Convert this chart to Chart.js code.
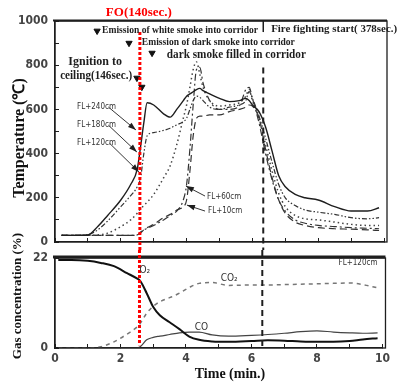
<!DOCTYPE html>
<html>
<head>
<meta charset="utf-8">
<script src="https://cdn.jsdelivr.net/npm/chart.js@4.4.1/dist/chart.umd.min.js"></script>
<style>
    html, body { margin: 0; padding: 0; background: #fff; }
    #wrap { position: relative; width: 398px; height: 383px; }
    #wrap canvas { position: absolute; left: 0; top: 0; }
</style>
</head>
<body>
<div id="wrap">
    <canvas id="gasChart" width="398" height="383"></canvas>
    <canvas id="tempChart" width="398" height="383"></canvas>
</div>
<script>
// =========================
// DATA
// =========================

// time (min.) for the temperature curves
const tempTime = [0.2, 0.5, 1.0, 1.3, 1.6, 2.0, 2.3, 2.5, 2.6, 2.7, 2.8, 3.0, 3.3, 3.5, 3.7, 3.9, 4.0, 4.1, 4.2, 4.3,
    4.4, 4.5, 4.7, 5.0, 5.3, 5.6, 5.8, 5.9, 6.0, 6.2, 6.4, 6.6, 6.8, 7.0, 7.3, 7.6, 8.0, 8.5, 9.0, 9.5, 9.85];

const fl240 = [30, 30, 32, 70, 120, 190, 260, 330, 430, 540, 630, 620, 580, 565, 600, 640, 660, 670, 680, 690,
    695, 685, 670, 650, 635, 640, 650, 640, 620, 590, 520, 410, 300, 250, 215, 200, 190, 160, 140, 140, 155];
const fl180 = [30, 30, 33, 55, 95, 160, 210, 250, 290, 400, 480, 495, 505, 515, 530, 545, 560, 600, 640, 660,
    655, 640, 610, 600, 610, 620, 640, 680, 650, 570, 470, 360, 260, 200, 165, 145, 135, 125, 110, 105, 110];
const fl120 = [30, 30, 30, 32, 40, 70, 100, 130, 150, 165, 180, 215, 290, 345, 440, 560, 620, 700, 780, 815,
    760, 700, 640, 615, 620, 630, 660, 690, 640, 560, 440, 320, 220, 160, 120, 105, 100, 90, 80, 75, 75];
const fl60 = [30, 30, 30, 30, 30, 30, 30, 32, 45, 55, 62, 75, 100, 120, 140, 190, 260, 420, 620, 780,
    790, 720, 640, 600, 600, 615, 690, 700, 650, 540, 400, 280, 190, 140, 100, 85, 75, 70, 65, 62, 60];
const fl10 = [30, 30, 30, 30, 30, 30, 30, 32, 40, 55, 65, 80, 110, 125, 145, 160, 190, 320, 480, 560,
    570, 570, 575, 575, 590, 600, 610, 620, 615, 560, 420, 290, 190, 130, 90, 75, 65, 60, 58, 55, 52];

// event markers (triangles) on the temperature panel
const eventTime = [1.28, 2.25, 2.95, 2.49, 2.64];
const eventTemp = [955, 900, 855, 742, 701];

// time (min.) for the gas curves
const gasTime = [0.1, 0.5, 1.0, 1.4, 1.8, 2.2, 2.5, 2.6, 2.8, 3.0, 3.2, 3.5, 3.8, 4.1, 4.4, 4.8, 5.3,
    6.0, 6.5, 7.0, 7.5, 8.0, 8.5, 9.0, 9.4, 9.85];

const o2 = [21.5, 21.5, 21.3, 20.8, 20.0, 18.3, 17.0, 16.4, 13.4, 10.0, 8.0, 6.3, 4.6, 2.8, 2.0, 1.6, 1.5,
    1.7, 1.9, 1.8, 1.6, 1.5, 1.5, 1.7, 2.1, 2.4];
const co2 = [0, 0, 0, 0.3, 1.5, 3.4, 5.1, 6.0, 8.5, 10.2, 11.3, 12.3, 13.4, 14.8, 15.8, 16.0, 15.3,
    15.4, 15.4, 15.5, 15.6, 15.7, 15.8, 15.9, 15.5, 14.7];
const co = [0, 0, 0, 0, 0, 0, 0, 0.3, 2.0, 2.6, 2.9, 3.3, 3.7, 3.9, 3.9, 3.2, 2.9,
    3.1, 3.3, 3.6, 4.0, 4.2, 3.9, 3.7, 3.6, 3.7];

// axes
const timeMin = 0, timeMax = 10;
const tempMax = 1000;
const gasTicks = [0, 22];

// vertical event lines (min.)
const foTime = 2.58;
const fireTime = 6.33;

// =========================
// HELPERS
// =========================

const pairs = (xs, ys) => xs.map((t, i) => ({ x: t, y: ys[i] }));

const narrow = "'Liberation Sans Narrow', 'DejaVu Sans Condensed', sans-serif";
const tickFont = { family: narrow, size: 12, weight: "bold" };
const smallFont = "8px " + narrow;
const gasFont = "10px " + narrow;
const serif = "'Liberation Serif', 'Times New Roman', serif";
const ink = "#1e1e1e";

function curve(label, xs, ys, dash, width, color) {
    return {
        label: label,
        data: pairs(xs, ys),
        borderColor: color || ink,
        borderWidth: width,
        borderDash: dash,
        pointRadius: 0,
        cubicInterpolationMode: "monotone",
        fill: false
    };
}

// =========================
// OVERLAY PLUGIN
// =========================

const overlay = {
    id: "overlay",
    afterDatasetsDraw(chart, args, opts) {
        const { ctx, chartArea: a } = chart;
        const x = chart.scales.x, y = chart.scales.y;
        ctx.save();

        // frame
        ctx.setLineDash([]);
        ctx.strokeStyle = ink;
        ctx.lineWidth = 1.3;
        ctx.strokeRect(a.left, a.top, a.right + 3 - a.left, a.bottom - a.top);
        ctx.lineWidth = opts.topRule;
        ctx.beginPath();
        ctx.moveTo(a.left - 2, a.top - opts.topRule / 2 + 0.5);
        ctx.lineTo(a.right + 3, a.top - opts.topRule / 2 + 0.5);
        ctx.stroke();

        // vertical lines
        opts.vlines.forEach(l => {
            const px = x.getPixelForValue(l.t);
            const y1 = l.from === undefined ? a.top - 8 : y.getPixelForValue(l.from);
            const y2 = l.to === undefined ? a.bottom + 8 : y.getPixelForValue(l.to);
            ctx.strokeStyle = l.color;
            ctx.lineWidth = l.width;
            ctx.setLineDash(l.dash);
            ctx.beginPath();
            ctx.moveTo(px, y1);
            ctx.lineTo(px, y2);
            ctx.stroke();
        });
        ctx.setLineDash([]);

        // label arrows
        ctx.strokeStyle = ink;
        ctx.fillStyle = ink;
        ctx.lineWidth = 0.9;
        opts.arrows.forEach(r => {
            const x1 = x.getPixelForValue(r[0]), y1 = y.getPixelForValue(r[1]);
            const x2 = x.getPixelForValue(r[2]), y2 = y.getPixelForValue(r[3]);
            const ang = Math.atan2(y2 - y1, x2 - x1);
            ctx.beginPath();
            ctx.moveTo(x1, y1);
            ctx.lineTo(x2, y2);
            ctx.stroke();
            ctx.beginPath();
            ctx.moveTo(x2, y2);
            ctx.lineTo(x2 - 8 * Math.cos(ang) + 2.8 * Math.sin(ang), y2 - 8 * Math.sin(ang) - 2.8 * Math.cos(ang));
            ctx.lineTo(x2 - 8 * Math.cos(ang) - 2.8 * Math.sin(ang), y2 - 8 * Math.sin(ang) + 2.8 * Math.cos(ang));
            ctx.closePath();
            ctx.fill();
        });

        // texts placed in data coordinates (w squeezes scanned, condensed lettering)
        ctx.textBaseline = "middle";
        opts.notes.forEach(n => {
            ctx.font = n.font;
            ctx.fillStyle = n.color || ink;
            ctx.textAlign = n.align || "left";
            const px = x.getPixelForValue(n.t), py = y.getPixelForValue(n.v);
            if (n.w) ctx.fillText(n.text, px, py, n.w);
            else ctx.fillText(n.text, px, py);
        });

        // axis titles
        ctx.textAlign = "center";
        opts.titles.forEach(n => {
            ctx.save();
            ctx.translate(n.px, n.py);
            ctx.rotate(n.rot || 0);
            ctx.font = n.font;
            ctx.fillStyle = "#111";
            ctx.fillText(n.text, 0, 0);
            ctx.restore();
        });

        ctx.restore();
    }
};

// =========================
// TEMPERATURE CHART
// =========================

const tempChart = new Chart(document.getElementById("tempChart"), {
    type: "line",
    data: {
        datasets: [
            curve("FL+240cm", tempTime, fl240, [], 1.4),
            curve("FL+180cm", tempTime, fl180, [5, 2, 1.5, 2, 1.5, 2], 1.2, "#333"),
            curve("FL+120cm", tempTime, fl120, [1.5, 3], 1.5, "#444"),
            curve("FL+60cm", tempTime, fl60, [7, 3, 2, 3], 1.2, "#333"),
            curve("FL+10cm", tempTime, fl10, [7, 4], 1.2, "#333"),
            {
                type: "scatter",
                label: "events",
                data: pairs(eventTime, eventTemp),
                pointStyle: "triangle",
                rotation: 180,
                radius: 3.6,
                backgroundColor: "#111",
                borderColor: "#111",
                showLine: false
            }
        ]
    },
    options: {
        responsive: false,
        animation: false,
        events: [],
        layout: { padding: { top: 21, right: 14, bottom: 133, left: 0 } },
        plugins: {
            legend: { display: false },
            tooltip: { enabled: false },
            overlay: {
                topRule: 2,
                vlines: [
                    { t: fireTime, from: 1000, to: 950, dash: [], width: 1.5, color: ink },
                    { t: fireTime, from: 790, dash: [6, 4], width: 2, color: ink },
                    { t: foTime, from: 950, dash: [3, 2], width: 3, color: "#ff0000" }
                ],
                arrows: [
                    [1.62, 611, 2.46, 507],
                    [1.62, 529, 2.49, 407],
                    [1.65, 448, 2.55, 317],
                    [4.56, 208, 3.98, 253],
                    [4.56, 140, 4.01, 167]
                ],
                notes: [
                    { t: 2.55, v: 1036, text: "FO(140sec.)", font: "bold 13px " + serif, color: "#ff0000", align: "center" },
                    { t: 1.43, v: 959, text: "Emission of white smoke into corridor", font: "bold 10px " + serif, w: 156 },
                    { t: 2.64, v: 905, text: "Emission of dark smoke into corridor", font: "bold 10px " + serif, w: 153 },
                    { t: 3.40, v: 846, text: "dark smoke filled in corridor", font: "bold 12px " + serif, w: 139 },
                    { t: 6.57, v: 964, text: "Fire fighting start( 378sec.)", font: "bold 11px " + serif, w: 126 },
                    { t: 1.22, v: 814, text: "Ignition to", font: "bold 12px " + serif, align: "center" },
                    { t: 1.25, v: 751, text: "ceiling(146sec.)", font: "bold 12px " + serif, align: "center", w: 72 },
                    { t: 0.67, v: 611, text: "FL+240cm", font: smallFont, color: "#333" },
                    { t: 0.67, v: 529, text: "FL+180cm", font: smallFont, color: "#333" },
                    { t: 0.67, v: 448, text: "FL+120cm", font: smallFont, color: "#333" },
                    { t: 4.62, v: 204, text: "FL+60cm", font: smallFont, color: "#333" },
                    { t: 4.65, v: 140, text: "FL+10cm", font: smallFont, color: "#333" }
                ],
                titles: [
                    { px: 20, py: 138, rot: -Math.PI / 2, text: "Temperature (℃)", font: "bold 16px " + serif }
                ]
            }
        },
        scales: {
            x: {
                type: "linear",
                min: timeMin,
                max: timeMax,
                ticks: { display: false, stepSize: 1 },
                grid: { drawOnChartArea: false, tickLength: -4, color: ink },
                border: { color: ink, width: 1.3 },
                afterFit: s => { s.height = 8; }
            },
            y: {
                min: 0,
                max: tempMax,
                ticks: {
                    stepSize: 100,
                    padding: 11,
                    font: tickFont,
                    color: "#444",
                    callback: v => (v % 200 === 0 ? v : "")
                },
                grid: { drawOnChartArea: false, tickLength: -4, color: ink },
                border: { color: ink, width: 1.3 },
                afterFit: s => { s.width = 55; }
            }
        }
    },
    plugins: [overlay]
});

// =========================
// GAS CHART
// =========================

const gasChart = new Chart(document.getElementById("gasChart"), {
    type: "line",
    data: {
        datasets: [
            curve("O2", gasTime, o2, [], 2, "#111"),
            curve("CO2", gasTime, co2, [4, 4], 1.5, "#777"),
            curve("CO", gasTime, co, [], 1.2, "#444")
        ]
    },
    options: {
        responsive: false,
        animation: false,
        events: [],
        layout: { padding: { top: 258, right: 14, bottom: 0, left: 0 } },
        plugins: {
            legend: { display: false },
            tooltip: { enabled: false },
            overlay: {
                topRule: 3,
                vlines: [
                    { t: fireTime, to: 0, dash: [6, 4], width: 2, color: ink },
                    { t: foTime, to: 0.7, dash: [3, 2], width: 3, color: "#ff0000" }
                ],
                arrows: [],
                notes: [
                    { t: 8.66, v: 20.9, text: "FL+120cm", font: smallFont, color: "#333" },
                    { t: 2.58, v: 18.9, text: "O₂", font: gasFont, color: "#333" },
                    { t: 5.32, v: 16.9, text: "CO₂", font: gasFont, color: "#333", align: "center" },
                    { t: 4.47, v: 5.0, text: "CO", font: gasFont, color: "#333", align: "center" }
                ],
                titles: [
                    { px: 18, py: 296, rot: -Math.PI / 2, text: "Gas concentration (%)", font: "bold 13px " + serif },
                    { px: 230, py: 374, text: "Time (min.)", font: "bold 14px " + serif }
                ]
            }
        },
        scales: {
            x: {
                type: "linear",
                min: timeMin,
                max: timeMax,
                ticks: {
                    stepSize: 1,
                    padding: 8,
                    font: tickFont,
                    color: "#444",
                    maxRotation: 0,
                    callback: v => (v % 2 === 0 ? v : "")
                },
                grid: { drawOnChartArea: false, tickLength: -4, color: ink },
                border: { color: ink, width: 1.3 },
                afterFit: s => { s.height = 35; }
            },
            y: {
                min: gasTicks[0],
                max: gasTicks[1],
                afterBuildTicks: s => { s.ticks = gasTicks.map(v => ({ value: v })); },
                ticks: { padding: 11, font: tickFont, color: "#444" },
                grid: { drawOnChartArea: false, tickLength: -4, color: ink },
                border: { color: ink, width: 1.3 },
                afterFit: s => { s.width = 55; }
            }
        }
    },
    plugins: [overlay]
});
</script>
</body>
</html>
